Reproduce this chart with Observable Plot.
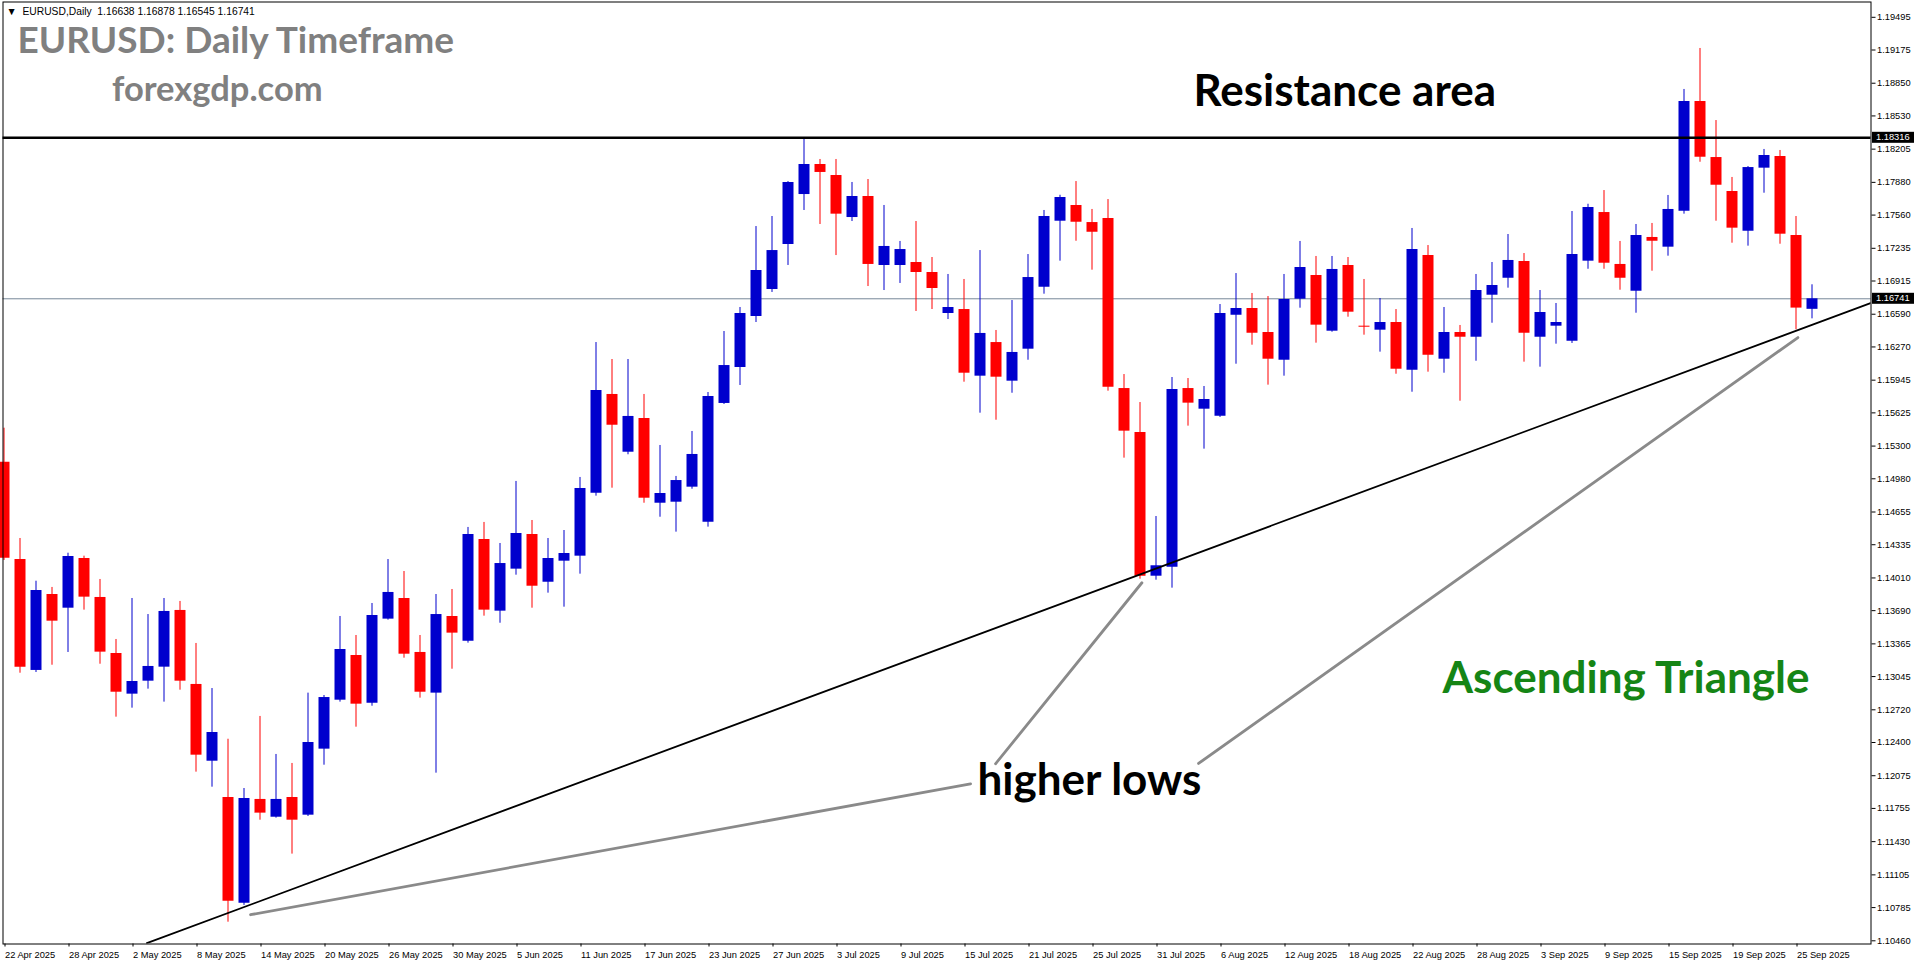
<!DOCTYPE html>
<html>
<head>
<meta charset="utf-8">
<script src="https://cdn.jsdelivr.net/npm/d3@7"></script>
<script src="https://cdn.jsdelivr.net/npm/@observablehq/plot@0.6"></script>
<style>
  html, body { margin: 0; padding: 0; background: #ffffff; overflow: hidden; }
  #chart svg { display: block; }
</style>
</head>
<body>
<div id="chart"></div>
<script>
// ---- Data ----
const dateLabels = ["22 Apr 2025","28 Apr 2025","2 May 2025","8 May 2025","14 May 2025","20 May 2025","26 May 2025","30 May 2025","5 Jun 2025","11 Jun 2025","17 Jun 2025","23 Jun 2025","27 Jun 2025","3 Jul 2025","9 Jul 2025","15 Jul 2025","21 Jul 2025","25 Jul 2025","31 Jul 2025","6 Aug 2025","12 Aug 2025","18 Aug 2025","22 Aug 2025","28 Aug 2025","3 Sep 2025","9 Sep 2025","15 Sep 2025","19 Sep 2025","25 Sep 2025"];
const dateTickIndex = dateLabels.map((_, k) => k * 4);

const opens = [1.15142,1.14190,1.13105,1.13848,1.13714,1.14200,1.13819,1.13271,1.12873,1.13000,
1.13137,1.13692,1.12968,1.12217,1.11862,1.10828,1.11843,1.11669,1.11862,1.11689,
1.12335,1.12814,1.13251,1.12785,1.13607,1.13809,1.13281,1.12883,1.13633,1.13391,
1.14386,1.13685,1.14096,1.14435,1.13968,1.14174,1.14223,1.14839,1.15805,1.15240,
1.15570,1.14741,1.14751,1.14898,1.14555,1.15717,1.16069,1.16568,1.16832,1.17272,
1.17761,1.18055,1.17947,1.17536,1.17742,1.17067,1.17067,1.17096,1.16998,1.16597,
1.16636,1.15984,1.16313,1.15935,1.16248,1.16854,1.17500,1.17654,1.17487,1.17527,
1.15863,1.15433,1.14027,1.14115,1.15863,1.15661,1.15592,1.16580,1.16646,1.16411,
1.16140,1.16737,1.16969,1.16424,1.17067,1.16473,1.16434,1.16509,1.16042,1.17164,
1.16150,1.16411,1.16365,1.16776,1.16942,1.17106,1.16365,1.16473,1.16326,1.17109,
1.17585,1.17077,1.16815,1.17341,1.17246,1.17598,1.18671,1.18123,1.17791,1.17402,
1.18019,1.18133,1.17360,1.16638];
const highs = [1.15475,1.14396,1.13978,1.13917,1.14252,1.14223,1.13995,1.13408,1.13809,1.13652,
1.13809,1.13780,1.13369,1.12928,1.12432,1.11950,1.12655,1.12283,1.12195,1.12883,
1.12860,1.13633,1.13447,1.13760,1.14190,1.14073,1.13447,1.13848,1.13897,1.14504,
1.14553,1.14347,1.14954,1.14572,1.14396,1.14474,1.14993,1.16313,1.16147,1.16147,
1.15805,1.15306,1.15003,1.15443,1.15824,1.16421,1.16656,1.17448,1.17546,1.17888,
1.18302,1.18104,1.18104,1.17879,1.17908,1.17654,1.17302,1.17497,1.17145,1.16979,
1.16930,1.17213,1.16431,1.16724,1.17174,1.17605,1.17754,1.17888,1.17615,1.17712,
1.16000,1.15726,1.14611,1.15971,1.15961,1.15883,1.16685,1.16988,1.16793,1.16763,
1.16979,1.17302,1.17155,1.17155,1.17145,1.16930,1.16744,1.16636,1.17429,1.17262,
1.16656,1.16480,1.16979,1.17096,1.17370,1.17184,1.16822,1.16695,1.17595,1.17666,
1.17800,1.17302,1.17468,1.17478,1.17752,1.18789,1.19190,1.18485,1.17928,1.18035,
1.18202,1.18192,1.17546,1.16878];
const lows = [1.14181,1.13078,1.13085,1.13156,1.13281,1.13695,1.13166,1.12648,1.12736,1.12922,
1.12795,1.12912,1.12110,1.11963,1.10642,1.10806,1.11640,1.11660,1.11308,1.11676,
1.12178,1.12795,1.12550,1.12755,1.13597,1.13225,1.12834,1.12100,1.13117,1.13372,
1.13636,1.13567,1.14037,1.13714,1.13861,1.13724,1.14047,1.14810,1.14888,1.15215,
1.14741,1.14604,1.14458,1.14878,1.14507,1.15707,1.15893,1.16509,1.16803,1.17067,
1.17605,1.17468,1.17164,1.17497,1.16861,1.16822,1.16891,1.16617,1.16636,1.16538,
1.15925,1.15622,1.15553,1.15817,1.16140,1.16786,1.17109,1.17304,1.17021,1.15837,
1.15182,1.13998,1.13988,1.13910,1.15495,1.15270,1.15580,1.16101,1.16287,1.15896,
1.15984,1.16649,1.16307,1.16414,1.16561,1.16385,1.16219,1.16003,1.15827,1.16023,
1.16013,1.15739,1.16130,1.16502,1.16845,1.16121,1.16072,1.16297,1.16304,1.17030,
1.17030,1.16825,1.16600,1.17011,1.17158,1.17569,1.18077,1.17500,1.17285,1.17256,
1.17774,1.17275,1.16438,1.16545];
const closes = [1.14203,1.13137,1.13887,1.13587,1.14220,1.13822,1.13284,1.12892,1.12997,1.13144,
1.13682,1.13000,1.12276,1.12498,1.10848,1.11852,1.11709,1.11843,1.11640,1.12400,
1.12840,1.13310,1.12775,1.13643,1.13868,1.13264,1.12892,1.13652,1.13470,1.14435,
1.13695,1.14151,1.14445,1.13929,1.14200,1.14249,1.14885,1.15844,1.15504,1.15590,
1.14790,1.14836,1.14963,1.15218,1.15785,1.16088,1.16597,1.17018,1.17213,1.17879,
1.18055,1.17977,1.17569,1.17742,1.17077,1.17253,1.17223,1.16998,1.16842,1.16656,
1.16013,1.16402,1.15974,1.16216,1.16949,1.17546,1.17732,1.17490,1.17392,1.15876,
1.15446,1.14027,1.14129,1.15854,1.15720,1.15756,1.16597,1.16646,1.16404,1.16150,
1.16734,1.17047,1.16483,1.17028,1.16610,1.16463,1.16509,1.16052,1.17223,1.16189,
1.16411,1.16365,1.16822,1.16871,1.17116,1.16404,1.16607,1.16509,1.17174,1.17634,
1.17089,1.16942,1.17360,1.17304,1.17615,1.18671,1.18126,1.17852,1.17432,1.18025,
1.18143,1.17373,1.16650,1.16741];

const yTickValues = [1.19495,1.19175,1.18850,1.18530,1.18205,1.17880,1.17560,1.17235,1.16915,1.16590,1.16270,1.15945,1.15625,1.15300,1.14980,1.14655,1.14335,1.14010,1.13690,1.13365,1.13045,1.12720,1.12400,1.12075,1.11755,1.11430,1.11105,1.10785,1.10460];

const resistanceLevel = 1.18316;
const lastPrice = 1.16741;

// Trendline (support) anchor points: bar index, price
const trendIndex = [8.93, 116.66];
const trendPrice = [1.10437, 1.16698];

// Gray pointer lines for "higher lows": [index1, price1] -> [index2, price2]
const pointerStartIndex = [60.41, 61.97, 74.66];
const pointerStartPrice = [1.11996, 1.12192, 1.12195];
const pointerEndIndex   = [15.41, 71.12, 112.12];
const pointerEndPrice   = [1.10715, 1.13963, 1.16362];

// Annotation labels
const noteText  = ["Resistance area", "Ascending Triangle", "higher lows"];
const noteIndex = [74.34, 89.91, 60.84];
const notePrice = [1.18628, 1.12881, 1.11882];
const noteColor = ["#000000", "#158515", "#000000"];

const headerLine = "\u25BC  EURUSD,Daily  1.16638 1.16878 1.16545 1.16741";
const titleText = "EURUSD: Daily Timeframe";
const siteText = "forexgdp.com";

// ---- Build tables ----
const candles = opens.map((o, i) => ({i, open: o, high: highs[i], low: lows[i], close: closes[i], up: closes[i] >= o}));
const trend = trendIndex.map((x, k) => ({x, y: trendPrice[k]}));
const pointers = pointerStartIndex.flatMap((x, k) => [
  {k, x, y: pointerStartPrice[k]},
  {k, x: pointerEndIndex[k], y: pointerEndPrice[k]}
]);
const notes = noteText.map((t, k) => ({t, x: noteIndex[k], y: notePrice[k], c: noteColor[k]}));

const UP = "#0000cd", DOWN = "#ff0000";
const W = 1916, H = 964;
const mL = 2.5, mR = 45.5, mT = 1.5, mB = 20.5;
const smallFont = "'Liberation Sans', Arial, sans-serif";

const plot = Plot.plot({
  width: W, height: H,
  marginLeft: mL, marginRight: mR, marginTop: mT, marginBottom: mB,
  style: {fontFamily: smallFont, fontSize: "9.3px", background: "#ffffff", color: "#000000", overflow: "visible"},
  x: {type: "linear", domain: [0, candles.length - 1], range: [3.5, 3.5 + 16 * (candles.length - 1)]},
  y: {type: "linear", domain: [1.10460, 1.19495], range: [940.3, 16.8]},
  marks: [
    Plot.ruleY([lastPrice], {stroke: "#778899", strokeWidth: 1}),
    Plot.ruleX(candles, {x: "i", y1: "low", y2: "high", stroke: d => d.up ? UP : DOWN, strokeWidth: 1}),
    Plot.ruleX(candles, {x: "i", y1: "open", y2: d => (Math.abs(d.close - d.open) < 0.00008 ? d.open - 0.0001 : d.close), stroke: d => d.up ? UP : DOWN, strokeWidth: 11, strokeLinecap: "butt"}),
    Plot.ruleY([resistanceLevel], {stroke: "#000000", strokeWidth: 2.6}),
    Plot.line(trend, {x: "x", y: "y", stroke: "#000000", strokeWidth: 1.8, clip: true}),
    Plot.line(pointers, {x: "x", y: "y", z: "k", stroke: "#8a8a8a", strokeWidth: 2.8}),
    Plot.text(notes, {x: "x", y: "y", text: "t", fill: "c", textAnchor: "start", lineAnchor: "bottom", fontFamily: "Lato", fontWeight: "bold", fontSize: 44}),
    Plot.text([titleText], {text: d => d, frameAnchor: "top-left", dx: 14.5, dy: 50.8, textAnchor: "start", lineAnchor: "bottom", fill: "#808080", fontFamily: "Lato", fontWeight: "bold", fontSize: 37}),
    Plot.text([siteText], {text: d => d, frameAnchor: "top-left", dx: 109, dy: 98.5, textAnchor: "start", lineAnchor: "bottom", fill: "#808080", fontFamily: "Lato", fontWeight: "bold", fontSize: 34.5}),
    Plot.text([headerLine], {text: d => d, frameAnchor: "top-left", dx: 3.5, dy: 10.2, textAnchor: "start", lineAnchor: "middle", fill: "#000000", fontSize: 10.3}),
    Plot.axisY({anchor: "right", ticks: yTickValues, tickFormat: d => d.toFixed(5), tickSize: 4, tickPadding: 2, fill: "#000000"}),
    Plot.axisX({anchor: "bottom", ticks: dateTickIndex, tickFormat: d => dateLabels[d / 4], tickSize: 3, tickPadding: 4, textAnchor: "start", dx: 1, fill: "#000000"}),
    Plot.frame({stroke: "#000000", strokeWidth: 1})
  ]
});

document.getElementById("chart").appendChild(plot);

// Highlighted price badges on the right axis
const ys = plot.scale("y");
const yf = (typeof ys.apply === "function") ? (v => ys.apply(v)) : d3.scaleLinear(ys.domain, ys.range);
const svg = d3.select(plot);
const axisX0 = W - mR;
for (const v of [resistanceLevel, lastPrice]) {
  const y = yf(v);
  svg.append("rect").attr("x", axisX0 + 1.5).attr("y", y - 5.5).attr("width", 42).attr("height", 11).attr("fill", "#000000");
  svg.append("text").attr("x", axisX0 + 5.5).attr("y", y).attr("dy", "0.34em").attr("fill", "#ffffff")
     .attr("text-anchor", "start").attr("font-size", 9.3).attr("font-family", smallFont).text(v.toFixed(5));
}
</script>
</body>
</html>
